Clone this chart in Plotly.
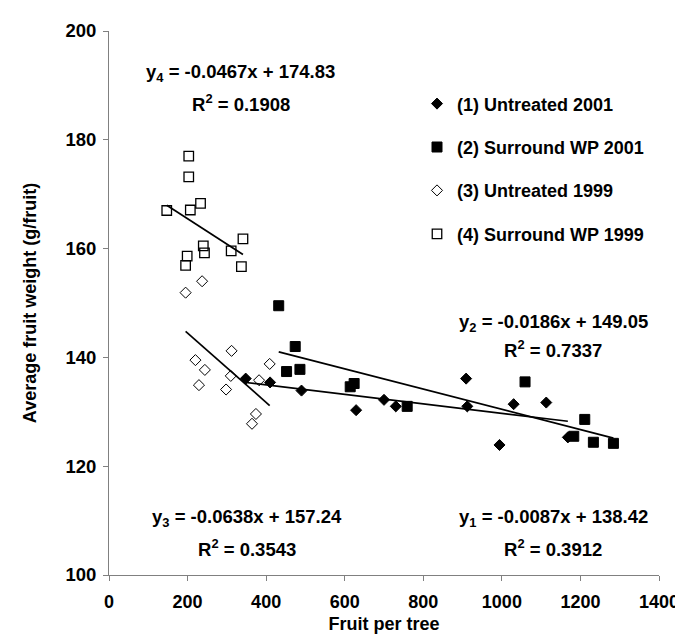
import plotly.graph_objects as go

# ---- data ----
x_untreated_2001 = [348, 410, 490, 629, 700, 730, 909, 912, 994, 1030, 1113, 1168]
y_untreated_2001 = [136.1, 135.4, 133.9, 130.3, 132.2, 131.0, 136.1, 131.0, 123.9, 131.4, 131.7, 125.3]

x_surround_2001 = [432, 452, 474, 486, 614, 624, 759, 1059, 1183, 1211, 1233, 1284]
y_surround_2001 = [149.5, 137.4, 142.0, 137.8, 134.6, 135.2, 131.0, 135.5, 125.5, 128.6, 124.4, 124.2]

x_untreated_1999 = [195, 220, 229, 237, 244, 298, 310, 312, 364, 374, 382, 409]
y_untreated_1999 = [151.9, 139.5, 134.9, 154.0, 137.7, 134.1, 136.6, 141.2, 127.8, 129.6, 135.8, 138.8]

x_surround_1999 = [147, 195, 199, 203, 203, 207, 233, 240, 243, 311, 337, 341]
y_surround_1999 = [167.0, 156.9, 158.6, 177.0, 173.2, 167.1, 168.3, 160.5, 159.2, 159.6, 156.7, 161.8]

series_names = ["(1) Untreated 2001", "(2) Surround WP 2001",
                "(3) Untreated 1999", "(4) Surround WP 1999"]
slopes = [-0.0087, -0.0186, -0.0638, -0.0467]
intercepts = [138.42, 149.05, 157.24, 174.83]
r2_values = ["0.3912", "0.7337", "0.3543", "0.1908"]

x_ticks = [0, 200, 400, 600, 800, 1000, 1200, 1400]
y_ticks = [100, 120, 140, 160, 180, 200]

FONT = "Liberation Sans, Arial, sans-serif"

fig = go.Figure()

xs = [x_untreated_2001, x_surround_2001, x_untreated_1999, x_surround_1999]
ys = [y_untreated_2001, y_surround_2001, y_untreated_1999, y_surround_1999]

# trend lines (from the fitted equations, across each series' x range)
for i in range(4):
    x0, x1 = min(xs[i]), max(xs[i])
    fig.add_trace(go.Scatter(
        x=[x0, x1], y=[slopes[i] * x0 + intercepts[i], slopes[i] * x1 + intercepts[i]],
        mode="lines", line=dict(color="black", width=1.7),
        showlegend=False, hoverinfo="skip"))

styles = [
    dict(symbol="diamond", size=8.5, color="black", line=dict(color="black", width=1)),
    dict(symbol="square", size=10, color="black", line=dict(color="black", width=1)),
    dict(symbol="diamond-open", size=8.5, color="black", line=dict(color="black", width=1)),
    dict(symbol="square-open", size=9.5, color="black", line=dict(color="black", width=1.3)),
]

for i in range(4):
    fig.add_trace(go.Scatter(
        x=xs[i], y=ys[i], mode="markers", name=series_names[i],
        marker=styles[i], legendgroup=str(i)))

BOLD = dict(family=FONT, size=18.5, color="black", weight="bold")

# equation annotations: (x centre, eq y, R2 y) in data units
eq_pos = [(1131, 110.4, 104.9), (1131, 146.4, 141.5), (350, 110.4, 104.9), (335, 192.3, 186.8)]
for i in range(4):
    eq = f"y<sub>{i+1}</sub> = {slopes[i]}x + {intercepts[i]:.2f}"
    r2 = f"R<sup>2</sup> = {r2_values[i]}"
    ax, ey, ry = eq_pos[i]
    fig.add_annotation(x=ax, y=ey, text=eq, showarrow=False, font=BOLD)
    fig.add_annotation(x=ax, y=ry, text=r2, showarrow=False, font=BOLD)

fig.update_layout(
    width=683, height=634,
    margin=dict(l=101, r=23, t=22, b=67),
    paper_bgcolor="white", plot_bgcolor="white",
    font=dict(family=FONT, size=18, color="black", weight="bold"),
    legend=dict(x=0.56, y=0.90, xanchor="left", yanchor="top",
                font=dict(family=FONT, size=18, color="black", weight="bold"),
                tracegroupgap=17, bgcolor="rgba(0,0,0,0)", itemwidth=30),
    showlegend=True,
)
fig.update_xaxes(range=[0, 1400], tickvals=x_ticks,
                 showgrid=False, zeroline=False, showline=True, linecolor="#808080",
                 linewidth=1, ticks="outside", ticklen=5, tickcolor="#808080",
                 ticklabelstandoff=5,
                 tickfont=dict(family=FONT, size=18, color="black", weight="bold"),
                 title=dict(text="Fruit per tree",
                            font=dict(family=FONT, size=18, color="black", weight="bold"), standoff=6))
fig.update_yaxes(range=[100, 200], tickvals=y_ticks,
                 showgrid=False, zeroline=False, showline=True, linecolor="#808080",
                 linewidth=1, ticks="outside", ticklen=5, tickcolor="#808080",
                 ticklabelstandoff=3,
                 tickfont=dict(family=FONT, size=18.5, color="black", weight="bold"),
                 title=dict(text="Average fruit weight (g/fruit)",
                            font=dict(family=FONT, size=18, color="black", weight="bold"), standoff=24))

fig.write_html("out.html")
